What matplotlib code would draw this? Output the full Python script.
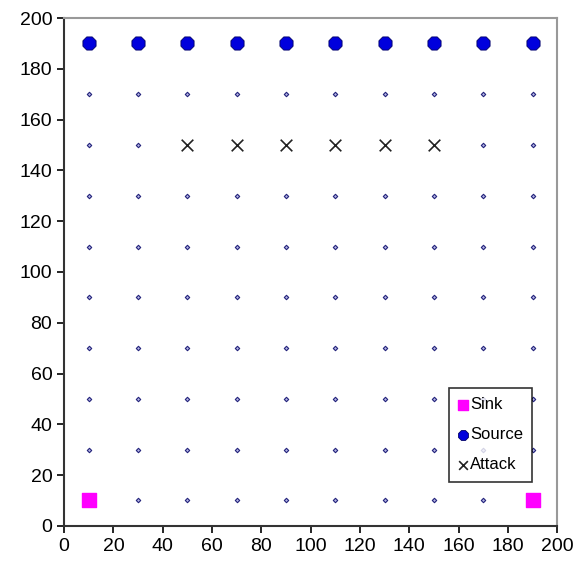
import matplotlib
matplotlib.use("Agg")
import matplotlib.pyplot as plt

plt.rcParams['font.family'] = ['Liberation Sans', 'DejaVu Sans']

grid_x = [10, 30, 50, 70, 90, 110, 130, 150, 170, 190]
grid_y = [10, 30, 50, 70, 90, 110, 130, 150, 170]

sink_x = [10, 190]
sink_y = [10, 10]

source_x = [10, 30, 50, 70, 90, 110, 130, 150, 170, 190]
source_y = [190, 190, 190, 190, 190, 190, 190, 190, 190, 190]

attack_x = [50, 70, 90, 110, 130, 150]
attack_y = [150, 150, 150, 150, 150, 150]

taken = set(zip(sink_x, sink_y)) | set(zip(attack_x, attack_y))
node_x, node_y = [], []
for y in grid_y:
    for x in grid_x:
        if (x, y) not in taken:
            node_x.append(x)
            node_y.append(y)

fig = plt.figure(figsize=(5.78, 5.66), dpi=100)
ax = fig.add_axes([0.111, 0.071, 0.853, 0.897])

ax.scatter(node_x, node_y, marker='D', s=5, facecolor='#b8b8e8', edgecolor='#22227a', linewidths=0.8, zorder=2)
ax.scatter(sink_x, sink_y, marker='s', s=110, color='#ff00ff', label='Sink', zorder=3)
ax.scatter(source_x, source_y, marker='8', s=105, color='#0000dd', edgecolor='#000066', linewidths=0.6, label='Source', zorder=3)
ax.scatter(attack_x, attack_y, marker='x', s=70, color='#222222', linewidths=1.2, label='Attack', zorder=3)

ax.set_xlim(0, 200)
ax.set_ylim(0, 200)
ax.set_xticks(range(0, 201, 20))
ax.set_yticks(range(0, 201, 20))
ax.tick_params(direction='out', length=5, width=1.2, labelsize=14)
for s in ['left', 'bottom']:
    ax.spines[s].set_linewidth(1.5)
    ax.spines[s].set_color('#333333')
for s in ['top', 'right']:
    ax.spines[s].set_linewidth(1.5)
    ax.spines[s].set_color('#999999')

handles, labels = ax.get_legend_handles_labels()
leg = ax.legend(handles, labels, loc='lower right', bbox_to_anchor=(0.949, 0.087),
                fontsize=12, frameon=True, fancybox=False, handletextpad=0.1,
                handlelength=0.6, borderpad=0.55, labelspacing=0.9, markerscale=0.75,
                borderaxespad=0)
leg.get_frame().set_edgecolor('black')
leg.get_frame().set_linewidth(1.2)

fig.savefig('out.png', dpi=100)
